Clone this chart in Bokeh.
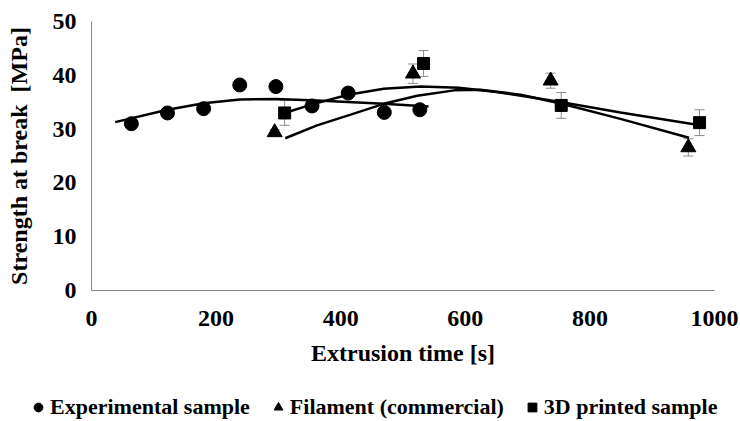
from bokeh.plotting import figure
from bokeh.layouts import column
from bokeh.models import (ColumnDataSource, Whisker, TeeHead, Legend, LegendItem,
                          FixedTicker)
from bokeh.embed import file_html
from bokeh.resources import INLINE

# Experimental sample
exp_time = [64, 122, 180, 238, 296, 354, 412, 470, 527]
exp_strength = [31.0, 33.0, 33.8, 38.2, 37.9, 34.3, 36.7, 33.1, 33.6]

# Filament (commercial)
fil_time = [294, 516, 737, 958]
fil_strength = [29.4, 40.3, 39.0, 26.6]
fil_err = [0.5, 1.8, 1.4, 1.6]

# 3D printed sample
prn_time = [310, 533, 754, 976]
prn_strength = [33.0, 42.2, 34.4, 31.2]
prn_err = [2.3, 2.4, 2.4, 2.4]

# Trend curves
exp_trend_t = [38, 122, 180, 238, 296, 362, 469, 541]
exp_trend_s = [31.3, 33.6, 34.8, 35.5, 35.6, 35.3, 34.7, 34.2]
fil_trend_t = [311, 362, 416, 469, 523, 582, 624, 689, 755, 849, 959]
fil_trend_s = [28.3, 30.7, 32.7, 34.7, 36.2, 37.2, 37.3, 36.4, 34.7, 31.9, 28.4]
prn_trend_t = [310, 354, 412, 469, 528, 590, 650, 700, 755, 849, 967]
prn_trend_s = [33.0, 34.6, 36.4, 37.5, 37.9, 37.7, 36.9, 36.0, 35.0, 33.1, 30.9]

x_ticks = [0, 200, 400, 600, 800, 1000]
y_ticks = [0, 10, 20, 30, 40, 50]
series_names = ["Experimental sample", "Filament (commercial)", "3D printed sample"]

FONT = "Liberation Serif"
AXIS_GRAY = "#868686"
ERR_GRAY = "#8c8c8c"

p = figure(width=740, height=381, x_range=(0, 1000), y_range=(0, 50),
           output_backend="svg", toolbar_location=None,
           min_border_left=91, min_border_right=26,
           min_border_top=21, min_border_bottom=91)
p.outline_line_color = None
p.grid.visible = False
p.background_fill_color = "white"
p.border_fill_color = "white"

for ax in (p.xaxis[0], p.yaxis[0]):
    ax.axis_line_color = AXIS_GRAY
    ax.axis_line_width = 1
    ax.major_tick_line_color = None
    ax.minor_tick_line_color = None
    ax.major_label_text_font = FONT
    ax.major_label_text_font_style = "bold"
    ax.major_label_text_font_size = "24px"
    ax.major_label_text_color = "black"
    ax.axis_label_text_font = FONT
    ax.axis_label_text_font_style = "bold"
    ax.axis_label_text_font_size = "24px"
    ax.axis_label_text_color = "black"

p.xaxis.ticker = FixedTicker(ticks=x_ticks)
p.yaxis.ticker = FixedTicker(ticks=y_ticks)
p.xaxis.axis_label = "Extrusion time [s]"
p.yaxis.axis_label = "Strength at break\u00a0 [MPa]"
p.xaxis.major_label_standoff = 14
p.xaxis.axis_label_standoff = 11
p.yaxis.major_label_standoff = 9
p.yaxis.axis_label_standoff = 18

# Error bars
fil_src = ColumnDataSource(dict(
    x=fil_time, y=fil_strength,
    lo=[s - e for s, e in zip(fil_strength, fil_err)],
    hi=[s + e for s, e in zip(fil_strength, fil_err)]))
prn_src = ColumnDataSource(dict(
    x=prn_time, y=prn_strength,
    lo=[s - e for s, e in zip(prn_strength, prn_err)],
    hi=[s + e for s, e in zip(prn_strength, prn_err)]))
for src in (fil_src, prn_src):
    p.add_layout(Whisker(source=src, base="x", lower="lo", upper="hi",
                         line_color=ERR_GRAY, line_width=1,
                         upper_head=TeeHead(size=10, line_color=ERR_GRAY, line_width=1),
                         lower_head=TeeHead(size=10, line_color=ERR_GRAY, line_width=1)))

# Trend curves
p.line(exp_trend_t, exp_trend_s, line_color="black", line_width=2.5)
p.line(fil_trend_t, fil_trend_s, line_color="black", line_width=2.5)
p.line(prn_trend_t, prn_trend_s, line_color="black", line_width=2.5)

# Data markers
p.scatter(exp_time, exp_strength, marker="circle", size=14,
          fill_color="black", line_color="black")
p.scatter("x", "y", source=fil_src, marker="triangle", size=15,
          fill_color="black", line_color="black")
p.scatter("x", "y", source=prn_src, marker="square", size=12,
          fill_color="black", line_color="black")

# Legend strip underneath the chart; its swatch renderers hold a single
# NaN point so that only the legend swatches show
leg = figure(width=740, height=40, x_range=(0, 1), y_range=(0, 1),
             output_backend="svg", toolbar_location=None,
             min_border_left=0, min_border_right=0,
             min_border_top=0, min_border_bottom=0,
             x_axis_location=None, y_axis_location=None)
leg.outline_line_color = None
leg.grid.visible = False
for f in (p, leg):
    try:
        f.frame_align = False
    except AttributeError:
        pass

leg_markers = ["circle", "triangle", "square"]
items = []
for name, mk in zip(series_names, leg_markers):
    r = leg.scatter(x=[float("nan")], y=[float("nan")], marker=mk, size=10,
                    fill_color="black", line_color="black")
    items.append(LegendItem(label=name, renderers=[r]))
legend = Legend(items=items, orientation="horizontal", location=(27, 1),
                label_text_font=FONT, label_text_font_style="bold",
                label_text_font_size="22px", label_text_color="black",
                glyph_width=22, glyph_height=24, label_standoff=1, spacing=17,
                padding=0, margin=0, border_line_color=None,
                background_fill_alpha=0)
leg.add_layout(legend, "center")

layout = column(p, leg, spacing=0)
open("out.html", "w").write(file_html(layout, INLINE))
